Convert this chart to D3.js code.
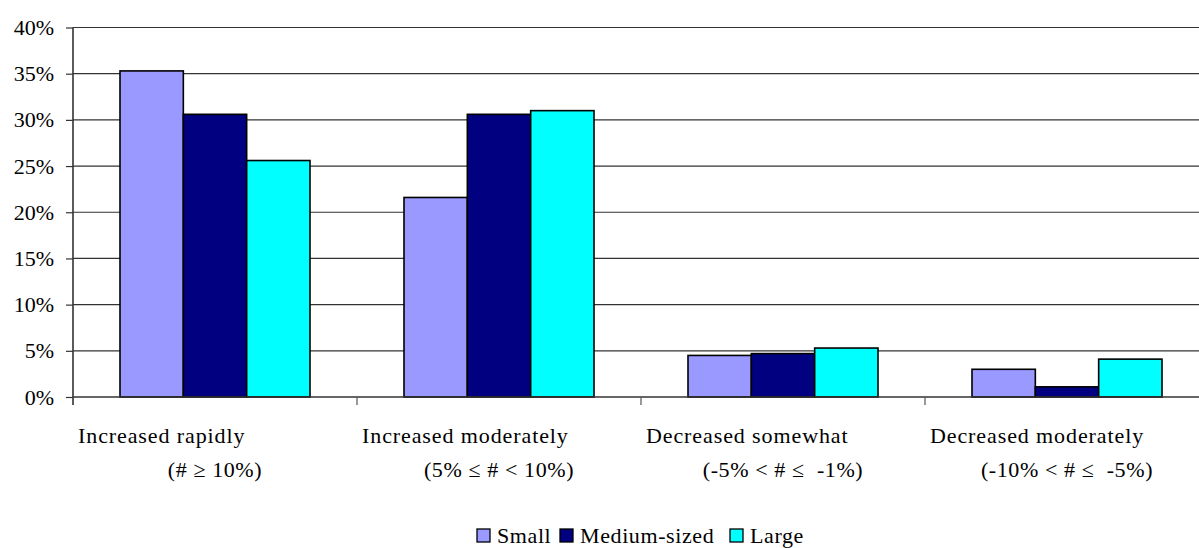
<!DOCTYPE html>
<html><head><meta charset="utf-8">
<script src="https://cdn.jsdelivr.net/npm/d3@7"></script>
<style>body{margin:0;background:#fff}svg{display:block}</style>
</head><body><svg id="c" width="1199" height="548" font-family="Liberation Serif"></svg>
<script>
const categories = ["Increased rapidly", "Increased moderately", "Decreased somewhat", "Decreased moderately"];
const subLabels = ["(# \u2265 10%)", "(5% \u2264 # < 10%)", "(-5% < # \u2264  -1%)", "(-10% < # \u2264  -5%)"];
const seriesNames = ["Small", "Medium-sized", "Large"];
const small = [35.3, 21.6, 4.5, 3.0];
const medium = [30.6, 30.6, 4.7, 1.1];
const large = [25.6, 31.0, 5.3, 4.1];
const yTicks = [0, 5, 10, 15, 20, 25, 30, 35, 40];
const colors = ["#9999FF", "#000080", "#00FFFF"];

const FONT = "Liberation Serif";
const series = [small, medium, large];
const svg = d3.select("#c");
const L = 73, R = 1209, T = 27.5, B = 397;
const x = d3.scaleBand().domain(categories).range([L, R]).paddingInner(0).paddingOuter(0);
const gpad = 47;
const inner = d3.scaleBand().domain(seriesNames).range([gpad, x.bandwidth() - gpad]).padding(0);
const y = d3.scaleLinear().domain([0, 40]).range([B, T]);

// gridlines
svg.append("g").selectAll("line").data(yTicks.slice(1)).join("line")
  .attr("x1", L).attr("x2", R).attr("y1", d => y(d)).attr("y2", d => y(d))
  .attr("stroke", "#333").attr("stroke-width", 1.2);

// bars
const g = svg.append("g");
categories.forEach((c, i) => {
  seriesNames.forEach((s, j) => {
    const v = series[j][i];
    g.append("rect")
      .attr("x", x(c) + inner(s)).attr("width", inner.bandwidth())
      .attr("y", y(v)).attr("height", y(0) - y(v))
      .attr("fill", colors[j]).attr("stroke", "#000").attr("stroke-width", 1.6);
  });
});

// y axis
const yAxis = d3.axisLeft(y).tickValues(yTicks).tickFormat(d => d + "%").tickSize(7).tickPadding(12);
const ya = svg.append("g").attr("transform", `translate(${L},0)`).call(yAxis);
ya.attr("font-family", FONT).attr("font-size", 22);
ya.select(".domain").remove();
ya.append("line").attr("x1", 0).attr("x2", 0).attr("y1", T).attr("y2", B + 8).attr("stroke", "#333").attr("stroke-width", 1.6);
ya.selectAll(".tick line").attr("stroke", "#333").attr("stroke-width", 1.2);
ya.selectAll(".tick text").attr("font-family", FONT).attr("font-size", 22).attr("fill", "#000");

// x axis
svg.append("line").attr("x1", L).attr("x2", R).attr("y1", B).attr("y2", B).attr("stroke", "#333").attr("stroke-width", 1.6);
svg.append("g").selectAll("line").data(categories.slice(1)).join("line")
  .attr("x1", d => x(d)).attr("x2", d => x(d)).attr("y1", B).attr("y2", B + 8)
  .attr("stroke", "#555").attr("stroke-width", 1.2);

// category labels
categories.forEach((c, i) => {
  svg.append("text").attr("x", x(c) + 5).attr("y", 443)
    .attr("font-family", FONT).attr("font-size", 22)
    .attr("letter-spacing", 0.9).text(c);
  svg.append("text").attr("x", x(c) + x.bandwidth() / 2).attr("y", 477)
    .attr("font-family", FONT).attr("font-size", 22)
    .attr("text-anchor", "middle").attr("letter-spacing", 0.6).attr("xml:space", "preserve").text(subLabels[i]);
});

// legend
const legX = [477, 560, 730];
const lg = svg.append("g");
seriesNames.forEach((s, j) => {
  lg.append("rect").attr("x", legX[j]).attr("y", 529).attr("width", 13).attr("height", 13)
    .attr("fill", colors[j]).attr("stroke", "#000").attr("stroke-width", 1.3);
  lg.append("text").attr("x", legX[j] + 20).attr("y", 543)
    .attr("font-family", FONT).attr("font-size", 22)
    .attr("letter-spacing", 0.6).text(s);
});
</script></body></html>
